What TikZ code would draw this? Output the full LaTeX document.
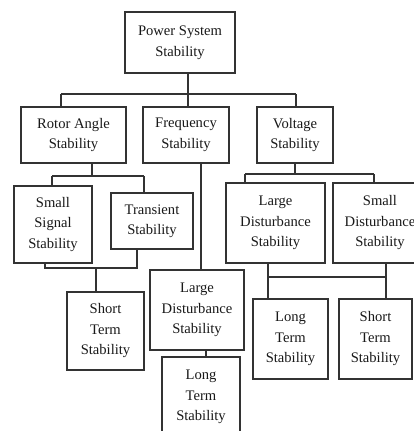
\documentclass[tikz,border=0pt]{standalone}
\usepackage{fontspec}
\setmainfont{Liberation Serif}
\begin{document}
\begin{tikzpicture}[x=1pt,y=-1pt,
  bx/.style={draw=black!80, line width=1.5pt, rectangle, inner sep=0pt, align=center,
    text=black!90, font=\fontsize{14.6}{20.5}\selectfont},
  ln/.style={draw=black!80, line width=1.5pt}]
\useasboundingbox (0,0) rectangle (414,431);
\fill[white] (0,0) rectangle (414,431);
\begin{scope}
\clip (0,0) rectangle (414,431);
\node[bx, minimum width=110, minimum height=61] (PS) at (180,42.5) {Power System\\Stability};
\node[bx, minimum width=105, minimum height=56] (RA) at (73.5,135) {Rotor Angle\\Stability};
\node[bx, minimum width=86, minimum height=56] (FR) at (186,135) {Frequency\\Stability};
\node[bx, minimum width=76, minimum height=56] (VO) at (295,135) {Voltage\\Stability};
\node[bx, minimum width=78, minimum height=77] (SS) at (53,224.5) {Small\\Signal\\Stability};
\node[bx, minimum width=82, minimum height=56] (TR) at (152,221) {Transient\\Stability};
\node[bx, minimum width=77, minimum height=78] (ST1) at (105.5,331) {Short\\Term\\Stability};
\node[bx, minimum width=94, minimum height=80] (LD1) at (197,310) {Large\\Disturbance\\Stability};
\node[bx, minimum width=78, minimum height=80] (LT1) at (201,397) {Long\\Term\\Stability};
\node[bx, minimum width=99, minimum height=80] (LD2) at (275.5,223) {Large\\Disturbance\\Stability};
\node[bx, minimum width=94, minimum height=80] (SD) at (380,223) {Small\\Disturbance\\Stability};
\node[bx, minimum width=75, minimum height=80] (LT2) at (290.5,339) {Long\\Term\\Stability};
\node[bx, minimum width=73, minimum height=80] (ST2) at (375.5,339) {Short\\Term\\Stability};
% level 1 bus
\coordinate (b1) at (188,94);
\coordinate (b1L) at (61,94);
\coordinate (b1R) at (296,94);
\draw[ln] (PS.south -| b1) -- (b1);
\draw[ln] (b1L) -- (b1R);
\draw[ln] (b1L) -- (b1L |- RA.north);
\draw[ln] (b1) -- (b1 |- FR.north);
\draw[ln] (b1R) -- (b1R |- VO.north);
% rotor angle bus
\coordinate (b2) at (92,176);
\coordinate (b2L) at (52,176);
\coordinate (b2R) at (144,176);
\draw[ln] (RA.south -| b2) -- (b2);
\draw[ln] (b2L) -- (b2R);
\draw[ln] (b2L) -- (b2L |- SS.north);
\draw[ln] (b2R) -- (b2R |- TR.north);
% lower rotor bus
\coordinate (b3L) at (45,268);
\coordinate (b3R) at (137,268);
\coordinate (b3) at (96,268);
\draw[ln] (SS.south -| b3L) -- (b3L) -- (b3R) -- (TR.south -| b3R);
\draw[ln] (b3) -- (b3 |- ST1.north);
% frequency
\coordinate (f1) at (201,163);
\draw[ln] (FR.south -| f1) -- (LD1.north -| f1);
\coordinate (f2) at (206,350);
\draw[ln] (LD1.south -| f2) -- (LT1.north -| f2);
% voltage bus
\coordinate (v1) at (295,174);
\coordinate (v1L) at (245,174);
\coordinate (v1R) at (374,174);
\draw[ln] (VO.south -| v1) -- (v1);
\draw[ln] (v1L) -- (v1R);
\draw[ln] (v1L) -- (v1L |- LD2.north);
\draw[ln] (v1R) -- (v1R |- SD.north);
% lower voltage bus
\coordinate (v2L) at (268,277);
\coordinate (v2R) at (386,277);
\draw[ln] (LD2.south -| v2L) -- (LT2.north -| v2L);
\draw[ln] (SD.south -| v2R) -- (ST2.north -| v2R);
\draw[ln] (v2L) -- (v2R);
\end{scope}
\end{tikzpicture}
\end{document}
